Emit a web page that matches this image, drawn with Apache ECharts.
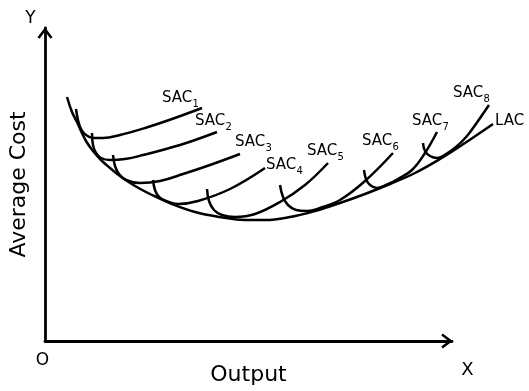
<!DOCTYPE html>
<html><head><meta charset="utf-8">
<script src="https://cdn.jsdelivr.net/npm/echarts@6/dist/echarts.min.js"></script>
<style>html,body{margin:0;padding:0;background:#fff}#c{width:529px;height:391px}</style>
</head><body><div id="c"></div>
<script>
// Values (origin O at bottom-left, arbitrary units)
const lac  = [[24,250],[29,235],[34,225],[38,216],[43,206],[50,196],[58,187],[67,179],[77,171],[92,161],[109,152],[129,143],[152,135],[177,130],[202,127],[222,127],[247,130],[272,136],[297,144],[322,153],[347,163],[372,174],[397,188],[422,204],[450,223]];
const sac1 = [[33,238],[35,227],[38,218],[43,212],[50,209],[60,209],[77,212],[102,219],[129,228],[159,239]];
const sac2 = [[49,214],[50,202],[53,194],[58,189],[67,187],[82,188],[100,192],[137,202],[174,215]];
const sac3 = [[70,192],[72,181],[76,173],[83,167],[97,164],[117,166],[140,173],[167,182],[197,193]];
const sac4 = [[110,167],[112,157],[116,150],[123,146],[135,143],[155,146],[187,158],[222,179]];
const sac5 = [[164,158],[166,146],[171,137],[179,132],[192,130],[212,133],[237,145],[262,162],[285,184]];
const sac6 = [[237,162],[240,150],[245,142],[253,137],[264,136],[277,139],[297,147],[322,166],[350,194]];
const sac7 = [[321,177],[323,168],[327,162],[334,159],[343,162],[355,168],[369,177],[382,194],[394,215]];
const sac8 = [[380,204],[382,196],[387,191],[394,189],[403,193],[413,200],[424,211],[435,226],[446,242]];
const sacCurves = [sac1,sac2,sac3,sac4,sac5,sac6,sac7,sac8];
const sacBase = 'SAC';
const sacSubs = ['1','2','3','4','5','6','7','8'];
const lacName = 'LAC';
const xName = 'Output', yName = 'Average Cost';
const xEnd = 'X', yEnd = 'Y', originName = 'O';

const FONT = 'DejaVu Sans';
const arrowPath = 'path://M7.5,0 L15,10 L13,11.5 L7.5,4.17 L2,11.5 L0,10 Z';
// label layout (pixels)
const sacLabelPos = [[162,98],[195,121],[235,142],[266,165],[307,151],[362,141],[412,121],[453,93]];

const chart = echarts.init(document.getElementById('c'), null, {renderer:'canvas'});
const lineStyle = {color:'#000', width:2.5};
const series = sacCurves.map((d,i)=>({
  type:'line', name: sacBase+sacSubs[i], xAxisIndex:1, yAxisIndex:1, data:d, showSymbol:false, symbol:'none',
  smooth:0.4, clip:false, lineStyle:lineStyle, silent:true
}));
series.push({type:'line', name:lacName, xAxisIndex:1, yAxisIndex:1, data:lac, showSymbol:false, symbol:'none', smooth:0.4, clip:false, lineStyle:lineStyle, silent:true});

const graphic = [];
sacLabelPos.forEach((p,i)=>{
  graphic.push({type:'text', x:p[0], y:p[1], style:{text:sacBase, fontSize:15, fontFamily:FONT, fill:'#000', align:'left', verticalAlign:'middle'}});
  graphic.push({type:'text', x:p[0]+30.5, y:p[1]+6, style:{text:sacSubs[i], fontSize:10, fontFamily:FONT, fill:'#000', align:'left', verticalAlign:'middle'}});
});
graphic.push({type:'text', x:495, y:121, style:{text:lacName, fontSize:15, fontFamily:FONT, fill:'#000', align:'left', verticalAlign:'middle'}});
graphic.push({type:'text', x:30.5, y:18.5, style:{text:yEnd, fontSize:17, fontFamily:FONT, fill:'#000', align:'center', verticalAlign:'middle'}});
graphic.push({type:'text', x:467.5, y:370, style:{text:xEnd, fontSize:18, fontFamily:FONT, fill:'#000', align:'center', verticalAlign:'middle'}});
graphic.push({type:'text', x:42.5, y:361, style:{text:originName, fontSize:17, fontFamily:FONT, fill:'#000', align:'center', verticalAlign:'middle'}});

const axisCommon = {
  type:'value', axisTick:{show:false}, axisLabel:{show:false}, splitLine:{show:false},
  axisLine:{show:true, onZero:false, symbol:['none', arrowPath], symbolSize:[15,12], symbolOffset:[0,-5], lineStyle:{color:'#000', width:2.8}},
  nameTextStyle:{fontSize:22, fontFamily:FONT, color:'#000'}
};
const hiddenAxis = {type:'value', show:false, axisLine:{show:false}, splitLine:{show:false}};
chart.setOption({
  backgroundColor:'#fff',
  animation:false,
  grid:[
    {left:43, top:28, right:77, bottom:44, containLabel:false},
    {left:43, top:28, right:16, bottom:44, containLabel:false}
  ],
  xAxis:[
    Object.assign({}, axisCommon, {gridIndex:0, min:0, max:409, name:xName, nameLocation:'middle', nameGap:23}),
    Object.assign({}, hiddenAxis, {gridIndex:1, min:0, max:470})
  ],
  yAxis:[
    Object.assign({}, axisCommon, {gridIndex:0, min:0, max:319, name:yName, nameLocation:'middle', nameGap:15, nameRotate:90}),
    Object.assign({}, hiddenAxis, {gridIndex:1, min:0, max:319})
  ],
  series:series,
  graphic:graphic
});
</script></body></html>
